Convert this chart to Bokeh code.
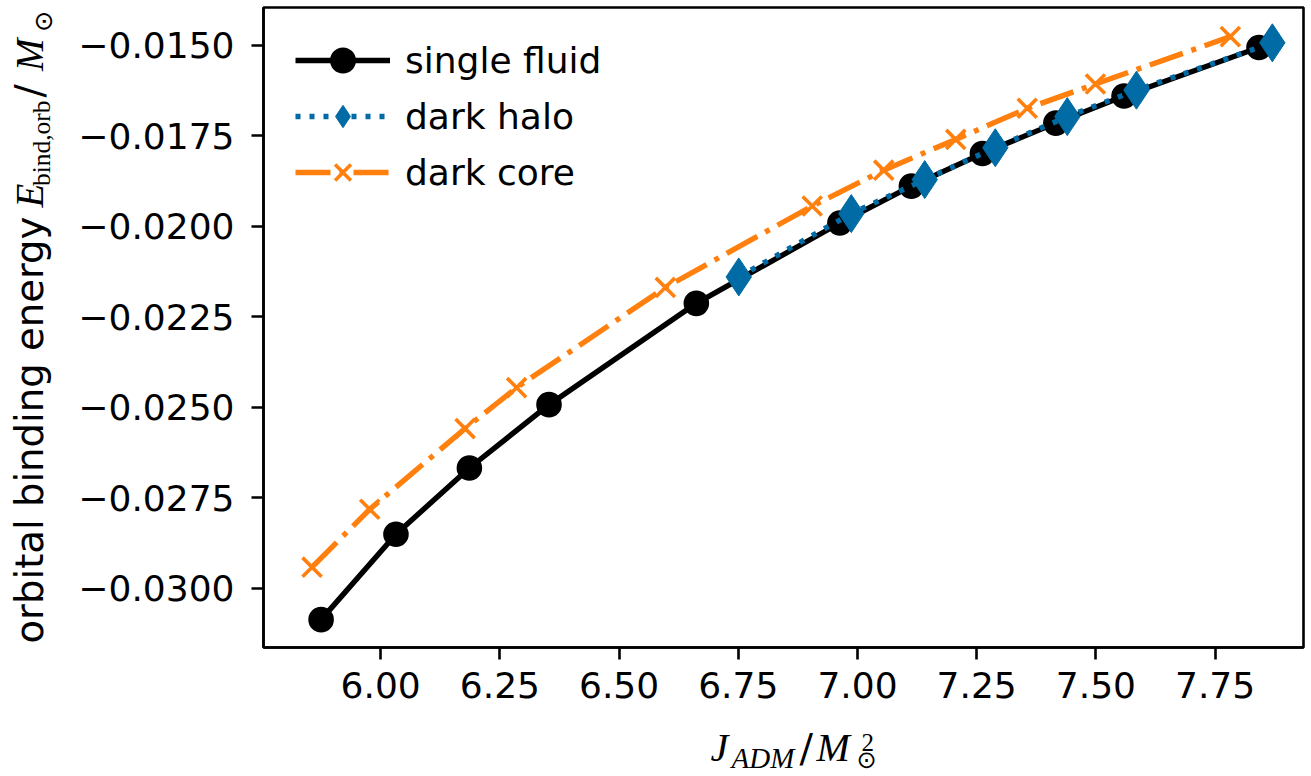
import math
from bokeh.plotting import figure
from bokeh.layouts import row, column
from bokeh.models import Range1d, FixedTicker, Label, Legend, LegendItem
from bokeh.embed import file_html
from bokeh.resources import INLINE

# ---- data ----
sf_x = [5.875, 6.032, 6.186, 6.353, 6.662, 6.963, 7.113, 7.262, 7.416, 7.559, 7.842]
sf_y = [-0.03087, -0.02851, -0.02668, -0.02493, -0.02213, -0.01991, -0.01889, -0.01799, -0.01715, -0.01640, -0.01506]

dh_x = [6.751, 6.987, 7.141, 7.289, 7.440, 7.585, 7.870]
dh_y = [-0.02140, -0.01965, -0.01871, -0.01783, -0.01697, -0.01624, -0.01493]

dc_x = [5.856, 5.977, 6.177, 6.285, 6.597, 6.905, 7.055, 7.206, 7.356, 7.499, 7.782]
dc_y = [-0.02942, -0.02782, -0.02559, -0.02446, -0.02169, -0.01944, -0.01845, -0.01760, -0.01674, -0.01607, -0.01476]

series_names = ["single fluid", "dark halo", "dark core"]

x_ticks = [6.00, 6.25, 6.50, 6.75, 7.00, 7.25, 7.50, 7.75]
x_tick_labels = ["6.00", "6.25", "6.50", "6.75", "7.00", "7.25", "7.50", "7.75"]
y_ticks = [-0.0300, -0.0275, -0.0250, -0.0225, -0.0200, -0.0175, -0.0150]
y_tick_labels = ["\u22120.0300", "\u22120.0275", "\u22120.0250", "\u22120.0225",
                 "\u22120.0200", "\u22120.0175", "\u22120.0150"]

BLUE = "#006BA4"
ORANGE = "#FF800E"

W, H = 1311, 776
FL, FR, FT, FB = 263, 1303, 7, 647
YW = 60          # width of the strip holding the y-axis title
TOPH = 720       # height of the upper row (plot + y title strip)

# ---- main plot ----
p = figure(width=W - YW, height=TOPH, title=None,
           x_range=Range1d(5.7542, 7.9354), y_range=Range1d(-0.03164, -0.013955),
           output_backend="svg", toolbar_location=None,
           min_border_left=FL - YW, min_border_right=W - FR,
           min_border_top=FT, min_border_bottom=TOPH - FB)

p.xgrid.visible = False
p.ygrid.visible = False
p.background_fill_color = "white"
p.border_fill_color = "white"
p.outline_line_color = "black"
p.outline_line_width = 2.6

for ax in (p.xaxis[0], p.yaxis[0]):
    ax.axis_line_width = 2.6
    ax.axis_line_color = "black"
    ax.major_tick_line_width = 2.6
    ax.major_tick_line_color = "black"
    ax.major_tick_in = 0
    ax.major_tick_out = 12
    ax.minor_tick_line_color = None
    ax.major_label_text_font = "DejaVu Sans"
    ax.major_label_text_font_size = "36px"
    ax.major_label_text_color = "black"

p.xaxis.ticker = FixedTicker(ticks=x_ticks)
p.xaxis.major_label_overrides = {t: s for t, s in zip(x_ticks, x_tick_labels)}
p.xaxis.major_label_standoff = 12
p.yaxis.ticker = FixedTicker(ticks=y_ticks)
p.yaxis.major_label_overrides = {t: s for t, s in zip(y_ticks, y_tick_labels)}
p.yaxis.major_label_standoff = 17

# ---- series ----
r_sf_l = p.line(sf_x, sf_y, line_color="black", line_width=5.4, line_join="round")
r_sf_m = p.scatter(sf_x, sf_y, marker="circle", size=22, fill_color="black",
                   line_color="black", line_width=3.6)

r_dh_l = p.line(dh_x, dh_y, line_color=BLUE, line_width=5.4, line_dash="5 9")
r_dh_m = p.scatter(dh_x, dh_y, marker="diamond", size=38, fill_color=BLUE,
                   line_color=BLUE, line_width=1)

r_dc_l = p.line(dc_x, dc_y, line_color=ORANGE, line_width=5.4, line_dash="35 9 5 9")
r_dc_m = p.scatter(dc_x, dc_y, marker="x", size=27, line_color=ORANGE, line_width=3.6)

legend = Legend(items=[
    LegendItem(label=series_names[0], renderers=[r_sf_l, r_sf_m]),
    LegendItem(label=series_names[1], renderers=[r_dh_l, r_dh_m]),
    LegendItem(label=series_names[2], renderers=[r_dc_l, r_dc_m]),
], location=(32, 447))
legend.margin = 0
legend.padding = 0
legend.spacing = 0
legend.glyph_width = 95
legend.glyph_height = 56
legend.label_height = 56
legend.label_standoff = 15
legend.label_text_font = "DejaVu Sans"
legend.label_text_font_size = "36px"
legend.label_text_color = "black"
legend.border_line_color = None
legend.background_fill_alpha = 0
p.add_layout(legend)


def strip(width, height):
    f = figure(width=width, height=height, title=None, min_border=0,
               x_range=Range1d(0, width), y_range=Range1d(0, height),
               x_axis_type=None, y_axis_type=None,
               output_backend="svg", toolbar_location=None)
    f.xgrid.visible = False
    f.ygrid.visible = False
    f.outline_line_color = None
    f.background_fill_color = "white"
    f.border_fill_color = "white"
    return f


MID = 0.345  # the label anchor lands this many ems above the text baseline


def put(f, frame_bottom, txt, bx, by, size, italic=False, font="Liberation Serif", rotated=False):
    # (bx, by): page pixels of the start of the text on its baseline
    if rotated:
        ax_, ay_ = bx - MID * size, by
    else:
        ax_, ay_ = bx, by - MID * size
    lab = Label(x=ax_, y=frame_bottom - ay_, x_units="screen", y_units="screen",
                text=txt, text_font=font, text_font_size=f"{size:.1f}px",
                text_font_style="italic" if italic else "normal",
                text_align="left", text_baseline="alphabetic",
                angle=math.pi / 2 if rotated else 0.0, text_color="black")
    f.add_layout(lab)


# ---- y axis title strip (rotated text; its frame is aligned with the plot frame) ----
fy = strip(YW, TOPH)
put(fy, FB, "orbital binding energy", 42, 643, 38.6, font="DejaVu Sans", rotated=True)
put(fy, FB, "E", 42, 207, 39, italic=True, rotated=True)
put(fy, FB, "bind,orb", 49, 185.5, 25.4, rotated=True)
put(fy, FB, "/", 42, 97, 39, font="DejaVu Serif", rotated=True)
put(fy, FB, "M", 42, 70.5, 39, italic=True, rotated=True)
put(fy, FB, "\u2299", 51, 31.5, 25.4, font="DejaVu Sans", rotated=True)

# ---- x axis title strip (frame covers the whole strip) ----
fx = strip(W, H - TOPH)
put(fx, H, "J", 710, 761, 40, italic=True)
put(fx, H, "ADM", 731, 768, 29, italic=True)
put(fx, H, "/", 799, 761, 40, font="DejaVu Serif")
put(fx, H, "M", 816, 761, 40, italic=True)
put(fx, H, "2", 861, 751, 25)
put(fx, H, "\u2299", 856, 768, 24, font="DejaVu Sans")

layout = column(row(fy, p, spacing=0), fx, spacing=0)

open("out.html", "w").write(file_html(layout, INLINE))
